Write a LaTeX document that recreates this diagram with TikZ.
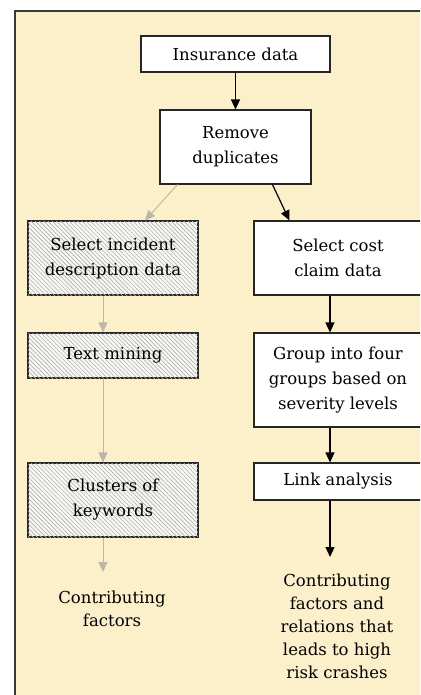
\documentclass[tikz,border=0pt]{standalone}
\usepackage{fontspec}
\setmainfont{DejaVu Serif}
\usetikzlibrary{arrows.meta,patterns.meta,calc}
\definecolor{cream}{HTML}{FCF0CA}
\definecolor{frameline}{HTML}{3A3A3A}
\definecolor{grayarrow}{HTML}{BDB7AA}
\definecolor{hatchbg}{HTML}{F8F8F6}
\definecolor{hatchline}{HTML}{B2B0AC}
\begin{document}
\begin{tikzpicture}[x=1pt,y=-1pt,
  box/.style={draw=black!85, line width=1.1pt, fill=white, inner sep=0pt, align=center,
    font=\fontsize{16.5}{25}\selectfont},
  hatchbox/.style={box, fill=hatchbg, postaction={pattern={Lines[angle=-45, distance=3pt, line width=0.6pt]}, pattern color=hatchline}},
  plain/.style={inner sep=0pt, align=center, font=\fontsize{16.5}{23}\selectfont},
  blk/.style={draw=black, line width=1.2pt, -{Triangle[width=9pt,length=10pt]}},
  gry/.style={draw=grayarrow, line width=1pt, -{Triangle[width=9pt,length=10pt]}}
]
\clip (0,0) rectangle (420,695);
\fill[white] (0,0) rectangle (420,695);
\draw[fill=cream, draw=frameline, line width=1.2pt] (15,11) rectangle (440,720);

\node[box, minimum width=189, minimum height=36] (ins) at (235.5,54) {Insurance data};
\node[box, minimum width=151, minimum height=74] (rem) at (235.5,147) {Remove\\duplicates};
\node[hatchbox, minimum width=170, minimum height=74] (sinc) at (113,258) {Select incident\\description data};
\node[box, minimum width=168, minimum height=74] (scost) at (338,258) {Select cost\\claim data};
\node[hatchbox, minimum width=170, minimum height=45] (tm) at (113,355.5) {Text mining};
\node[box, minimum width=168, minimum height=94] (grp) at (338,380) {Group into four\\groups based on\\severity levels};
\node[hatchbox, minimum width=170, minimum height=74] (clu) at (113,500) {Clusters of\\keywords};
\node[box, minimum width=168, minimum height=37] (link) at (338,481.5) {Link analysis};
\node[plain] (cf) at (112,609) {Contributing\\factors};
\node[plain] (cfr) at (337,626) {Contributing\\factors and\\relations that\\leads to high\\risk crashes};

\coordinate (cfTip) at (103,572);
\coordinate (cfrTip) at (330,557);

\draw[blk] (ins.south) -- (rem.north);
\draw[gry] ($(rem.south west)+(18,0)$) -- ($(sinc.north)+(32,0)$);
\draw[blk] ($(rem.south west)+(113,0)$) -- ($(scost.north west)+(36,0)$);
\draw[gry] ($(sinc.south)+(-10,0)$) -- ($(tm.north)+(-10,0)$);
\draw[blk] ($(scost.south)+(-8,0)$) -- ($(grp.north)+(-8,0)$);
\draw[gry] ($(tm.south)+(-10,0)$) -- ($(clu.north)+(-10,0)$);
\draw[blk] ($(grp.south)+(-8,0)$) -- ($(link.north)+(-8,0)$);
\draw[gry] ($(clu.south)+(-10,0)$) -- (cfTip);
\draw[blk] ($(link.south)+(-8,0)$) -- (cfrTip);
\end{tikzpicture}
\end{document}
